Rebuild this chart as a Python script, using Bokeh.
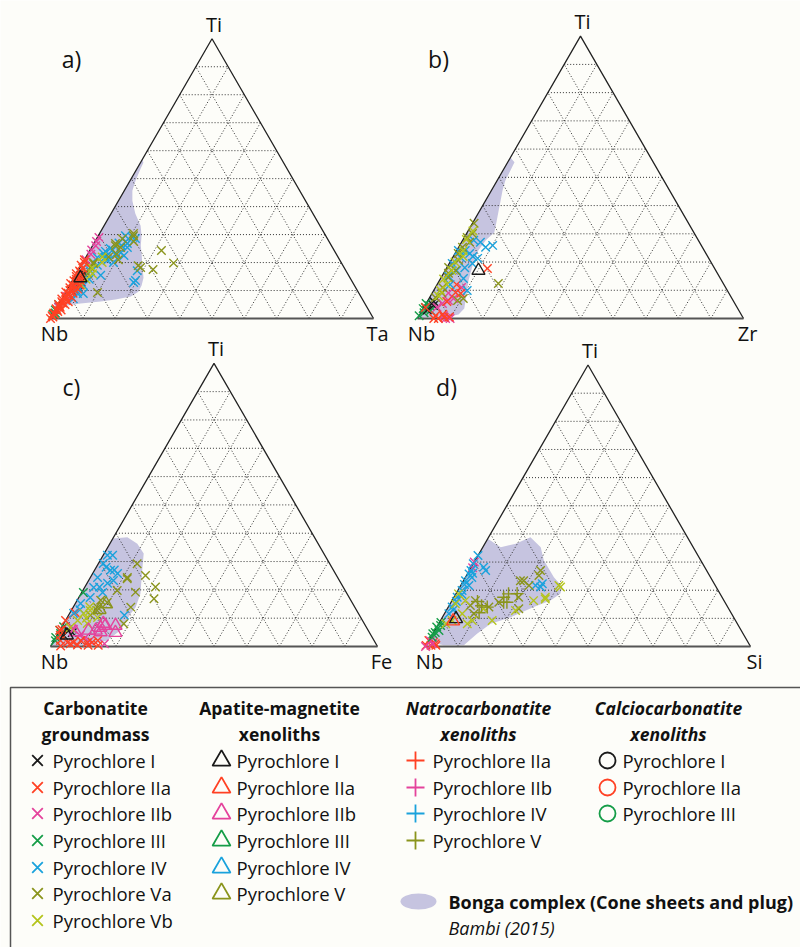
import numpy as np
from bokeh.plotting import figure
from bokeh.models import Range1d
from bokeh.embed import file_html
from bokeh.resources import INLINE
from bokeh.core.properties import value

# ---------------- data: ternary compositions (Ti %, X %) ; Nb = 100 - Ti - X ----------------
APEX_LABELS = ["Ti", "Ti", "Ti", "Ti"]
LEFT_LABELS = ["Nb", "Nb", "Nb", "Nb"]
RIGHT_LABELS = ["Ta", "Zr", "Fe", "Si"]
PANEL_TAGS = ["a)", "b)", "c)", "d)"]
GRID_FRACS = [0.1, 0.2, 0.3, 0.4, 0.5, 0.6, 0.7, 0.8, 0.9]

# Bonga complex fields (Bambi 2015)
A_BONGA = [(57, 0), (55.7, 0.9), (52.9, 1.2), (49.3, 1.7), (45.7, 2.5), (42.1, 4.3), (37.5, 7.5),
           (33.2, 11.3), (29.6, 13.4), (26.1, 14.9), (22.5, 17), (18.9, 19), (14.6, 21.5),
           (11.8, 22.3), (9.6, 22.4), (7.9, 20.9), (6.8, 16.7), (6.1, 12.5), (5.4, 6.6),
           (4.6, 2.3), (3.2, 0.6), (3, 0)]
B_BONGA = [(57, 0), (55.3, 2.1), (52.5, 2.3), (48.9, 2.5), (45.4, 3.4), (41.8, 4.6), (37.6, 6),
           (34, 7.2), (30.5, 8.3), (27.7, 7.1), (24.1, 6.6), (18.8, 7.5), (13.5, 8.9), (8.2, 10.9),
           (3.5, 12.6), (1.4, 11.9), (0.4, 8.4), (0.4, 2.5), (0, 0)]
C_BONGA = [(38.1, 0), (38.6, 4.2), (36.3, 8.4), (32.8, 12.1), (26.9, 14.6), (18.6, 18.2),
           (13.9, 19.1), (11.6, 18.7), (5.7, 18.6), (2.1, 16.2), (0.4, 12), (0.2, 3), (0, 0)]
D_BONGA = [(38.3, 0), (35.3, 5.5), (36.5, 9.5), (38.8, 12.9), (35.3, 17.8), (30.6, 21.1),
           (24.6, 27.2), (21.1, 31.6), (18.7, 32.1), (16.3, 30.3), (14, 26.3), (10.4, 21),
           (8.1, 16), (4.5, 13.6), (0.4, 11.6), (0.4, 5.4), (1.5, 0.7), (0, 0)]

# panel a) Nb-Ti-Ta
A_GM_I = [(14, 2), (13, 3), (12, 2.5), (15, 2), (10, 1.5), (11, 3), (16, 2.5)]
A_GM_IIA = [(0, 0), (0.5, 0.5), (1, 0), (1.5, 0.5), (2, 0), (2.5, 1), (3, 0.5), (3.5, 0), (4, 1),
            (4.5, 0.5), (5, 0), (5.5, 1), (6, 0.5), (6.5, 1.5), (7, 0), (7.5, 1), (8, 0.5), (8.5, 1.5),
            (9, 1), (9.5, 0), (10, 1), (10.5, 2), (11, 0.5), (11.5, 1.5), (12, 1), (12.5, 0), (13, 1.5),
            (13.5, 0.5), (14, 1), (14.5, 2), (15, 0.5), (15.5, 1.5), (16, 0), (16.5, 1), (17, 0.5),
            (18, 1), (19, 0), (20, 0.5), (21, 0), (6, 2.5), (9, 2.5), (12, 3), (3, 1.8), (7.5, 2.8),
            (10.5, 3.2), (13.5, 2.5), (5, 2)]
A_GM_IIB = [(29, 0.5), (27.5, 0.5), (26, 1), (24.5, 0.5), (23, 1), (21, 0.5), (8, 1), (4, 0.5)]
A_GM_III = [(3, 0), (4, 0.5), (2, 0.5), (5, 0), (1.5, 0)]
A_GM_IV = [(29.6, 8.4), (29, 10.9), (28.6, 12), (27, 7.7), (26.8, 10.4), (26, 9), (25.4, 11.1),
           (24.5, 7), (24, 5), (23.2, 4.8), (23, 8.5), (22, 6), (21.8, 3.6), (20.7, 7.2), (20, 9.5),
           (19, 5), (17.1, 3.8), (17.1, 18.3), (15.5, 7.8), (14, 5), (13.6, 19.5), (12.9, 19.3),
           (12.5, 2.1), (11.8, 4.3), (10, 3), (8.9, 5.7), (8.9, 3.9), (7.1, 3.5), (25, 6),
           (27.5, 9.5), (23.5, 10), (22.5, 11.5)]
A_GM_VA = [(30.4, 10.5), (29.6, 10.9), (26.8, 6.7), (26, 7.1), (25.4, 9), (24.3, 22.2), (19.8, 28.2),
           (17.5, 23), (18.9, 17.7), (18.2, 18.8), (9.3, 9.9), (18.2, 3.3), (20, 3.3), (16, 3.5),
           (19.6, 3.5), (23, 9), (22, 7), (21, 10.5), (27.5, 12), (28.5, 8)]
A_GM_VB = [(18, 4), (16, 5), (20, 6), (14, 4), (22, 5), (12, 3.5)]
A_AM_I = [(14.5, 2)]

# panel b) Nb-Ti-Zr
B_GM_I = [(4.6, 2.6), (6, 2), (3, 1.5)]
B_GM_IIA = [(17.7, 12.6), (0, 6.4), (0.4, 8), (1, 5), (9.2, 7.1), (8.9, 8.8), (3.9, 0.5), (0, 5),
            (0.5, 9.5), (1.5, 7), (6, 6), (12, 6)]
B_GM_IIB = [(0, 8.6), (0.4, 9.3), (7.1, 7.5), (6.4, 6.3), (5.3, 5), (1, 7.5), (0, 10), (4, 4),
            (9, 5), (11, 8)]
B_GM_III = [(5.3, 0), (3.9, 0.5), (3.5, 0), (2.8, 2.6), (1, 0), (2, 1), (4.5, 1.5)]
B_GM_IV = [(25.2, 8.3), (25.9, 10.1), (21.3, 7.8), (24.1, 2.6), (21.6, 2.4), (14.2, 7), (9.9, 10.3),
           (19.5, 7.1), (24.1, 0.5), (19.5, 0.9), (27, 5.8), (27.7, 3.4), (23, 4.5), (17, 3.5),
           (15, 2), (12, 4), (18, 5.5), (22, 6)]
B_GM_VA = [(33.7, 0.5), (30.1, 1.8), (28.7, 0.9), (25.2, 1.2), (20.6, 2.3), (14.5, 2.2), (11, 2.2),
           (7.4, 1.8), (18.1, 0.5), (17, 3.2), (6.4, 9.1), (7.1, 10.5), (12.4, 18.6), (27, 2.5),
           (23, 1), (16, 1.5), (9, 3)]
B_GM_VB = [(28, 1), (24, 2), (20, 1.5), (17, 2), (14, 1), (12, 3), (10, 2), (22, 3), (8, 2.5), (31, 1.5)]
B_AM_I = [(17, 10.2)]

# panel c) Nb-Ti-Fe
C_GM_I = [(5.7, 2.4), (4.9, 4.2), (3.9, 2.1)]
C_GM_IIA = [(2.1, 2), (1.4, 4.5), (1.4, 6.3), (2.1, 8.2), (1.4, 10.6), (2.1, 13.4), (0.4, 14.4),
            (0.4, 11.3), (0.2, 3), (1, 5.6), (5.7, 0), (9.2, 0), (6, 0.5), (12, 1.5), (4, 1),
            (0.5, 8), (1.5, 12)]
C_GM_IIB = [(3, 9), (2, 11), (6, 4), (4, 7), (1, 16)]
C_GM_III = [(5.7, 0), (4.6, 0.8), (3.2, 0), (19.1, 0.5), (7, 0.5), (2, 0.5)]
C_GM_IV = [(29.3, 1.5), (26.9, 4.9), (25.8, 7.6), (24.4, 2.2), (20.8, 2.8), (22.3, 6.3), (32.2, 2.9),
           (32.2, 1.3), (17.3, 3.5), (15.2, 1.6), (11.7, 1.2), (11, 17.1), (19.1, 6.4), (23.3, 7.6),
           (28, 3), (27, 6), (21, 4.5), (13, 2.5)]
C_GM_VA = [(29.2, 11.9), (25.1, 16.5), (21, 21.6), (16.9, 23.2), (19.2, 16.4), (13.9, 17.6),
           (8, 18.4), (23.9, 11.5), (24.4, 11.3), (19.8, 10.5), (16.3, 7.2), (12.7, 7.9),
           (13.8, 7.5), (15.5, 9.6), (11, 6.7)]
C_GM_VB = [(11.7, 4.3), (9.2, 3.7), (12.7, 5.8), (6.7, 2.7), (8.1, 7.2), (10.2, 9.3), (14, 5), (10, 6)]
C_AM_I = [(4, 3)]
C_AM_IIB = [(6.7, 11.9), (7.4, 13.1), (4.9, 17.4), (5.7, 11), (8.1, 12.1), (7.4, 16.2), (5.1, 12.8),
            (5.7, 8.8), (5.1, 5.1)]
C_AM_V = [(15, 9.5), (13, 8.5)]

# panel d) Nb-Ti-Si
D_GM_IIA = [(0.4, 0), (0.4, 1.5), (0.4, 3), (2.1, 0), (1.5, 1.7), (1, 2.5)]
D_GM_IIB = [(0, 0), (1, 1.6), (30, 0), (28, 0.5), (2, 0.5)]
D_GM_III = [(4.5, 0), (6.9, 0), (5.7, 1.3), (3.3, 0.4), (7.5, 0.9), (5, 0.5), (8.5, 0.5)]
D_GM_IV = [(32.3, 0), (28.2, 3.8), (27, 5), (29.4, 0), (25.8, 0.5), (23.4, 0.6), (19.9, 1.3),
           (17.5, 1), (14, 1.2), (11.6, 1.4), (27, 0.5), (21.7, 2.5), (22.3, 24.8), (21.7, 23),
           (21.1, 24.9), (26, 1.5), (24.5, 2), (22, 1), (18.5, 2), (16, 1.5), (13, 2)]
D_GM_VA = [(25.2, 22.3), (23.4, 17.5), (21.7, 21), (27, 21.9), (23.4, 18.5), (17.5, 19.9),
           (15.7, 14.7), (14, 12.5), (11.6, 9.1), (16.3, 7.2), (14.6, 6.5), (13.4, 22)]
D_GM_VB = [(21.7, 30.2), (21.1, 31), (17.5, 28.1), (16.9, 28.4), (16.3, 25.1), (12.8, 21.3),
           (9.2, 15.9), (16.3, 4.1), (18.7, 0.8), (15.2, 1.6), (11.6, 5.5), (9.2, 9.8), (9.2, 3.6),
           (8.1, 2.2), (8.1, 8.8), (13.4, 11.2)]
D_NC_V = [(18.7, 16.2), (17.5, 15.3), (14, 12), (18.8, 18.8), (15.7, 17.2), (15.7, 16.2), (16, 8),
          (12, 10.5), (14.5, 10)]
D_AM_I = [(9.8, 4.5)]
D_AM_IIA = [(9, 4)]

# legend entries
GM_NAMES = ["Pyrochlore I", "Pyrochlore IIa", "Pyrochlore IIb", "Pyrochlore III", "Pyrochlore IV",
            "Pyrochlore Va", "Pyrochlore Vb"]
AM_NAMES = ["Pyrochlore I", "Pyrochlore IIa", "Pyrochlore IIb", "Pyrochlore III", "Pyrochlore IV",
            "Pyrochlore V"]
NC_NAMES = ["Pyrochlore IIa", "Pyrochlore IIb", "Pyrochlore IV", "Pyrochlore V"]
CC_NAMES = ["Pyrochlore I", "Pyrochlore IIa", "Pyrochlore III"]

# ---------------- styles ----------------
COL = {"I": "#1a1a1a", "IIa": "#ff4124", "IIb": "#e4439c", "III": "#159d48", "IV": "#1aa2dc",
       "Va": "#8a941c", "Vb": "#b4c41c", "V": "#8a941c"}
GM_KEYS = ["I", "IIa", "IIb", "III", "IV", "Va", "Vb"]
AM_KEYS = ["I", "IIa", "IIb", "III", "IV", "V"]
NC_KEYS = ["IIa", "IIb", "IV", "V"]
CC_KEYS = ["I", "IIa", "III"]
BONGA_COL = "#c6c4e0"
FONT = value("Open Sans")

W, H = 800, 947
p = figure(width=W, height=H, x_range=Range1d(0, W), y_range=Range1d(H, 0),
           output_backend="svg", toolbar_location=None, min_border=0,
           x_axis_location=None, y_axis_location=None)
p.grid.visible = False
p.outline_line_color = None
p.background_fill_color = "#fdfdf9"
p.border_fill_color = "white"

# panel geometry: (Nb corner x, Nb corner y, side length) in screen units
GEO = [(50, 318, 323), (417, 318, 326), (50, 646, 327), (425, 646, 325)]
R3 = np.sqrt(3) / 2


def tern(ti, xx, geo):
    ox, oy, s = geo
    ti = np.asarray(ti, dtype=float) / 100.0
    xx = np.asarray(xx, dtype=float) / 100.0
    return ox + s * (xx + ti / 2.0), oy - s * R3 * ti


def pts_xy(pts, geo):
    return tern([t for t, _ in pts], [x for _, x in pts], geo)


BONGA = [A_BONGA, B_BONGA, C_BONGA, D_BONGA]
SERIES = [
    [("x", "III", A_GM_III), ("x", "I", A_GM_I), ("x", "IIb", A_GM_IIB), ("x", "IV", A_GM_IV),
     ("x", "Va", A_GM_VA), ("x", "Vb", A_GM_VB), ("x", "IIa", A_GM_IIA), ("triangle", "I", A_AM_I)],
    [("x", "III", B_GM_III), ("x", "I", B_GM_I), ("x", "IIb", B_GM_IIB), ("x", "IIa", B_GM_IIA),
     ("x", "IV", B_GM_IV), ("x", "Va", B_GM_VA), ("x", "Vb", B_GM_VB), ("triangle", "I", B_AM_I)],
    [("x", "III", C_GM_III), ("x", "I", C_GM_I), ("x", "IIb", C_GM_IIB), ("x", "IIa", C_GM_IIA),
     ("x", "IV", C_GM_IV), ("x", "Va", C_GM_VA), ("x", "Vb", C_GM_VB), ("triangle", "IIb", C_AM_IIB),
     ("triangle", "V", C_AM_V), ("triangle", "I", C_AM_I)],
    [("x", "IIa", D_GM_IIA), ("x", "IIb", D_GM_IIB), ("x", "III", D_GM_III), ("x", "IV", D_GM_IV),
     ("x", "Va", D_GM_VA), ("x", "Vb", D_GM_VB), ("cross", "V", D_NC_V), ("triangle", "I", D_AM_I),
     ("triangle", "IIa", D_AM_IIA)],
]
MSIZE = {"x": 12, "triangle": 13, "cross": 13, "circle": 12}

for k, geo in enumerate(GEO):
    # Bonga field
    bx, by = pts_xy(BONGA[k], geo)
    p.patch(bx, by, fill_color=BONGA_COL, line_color=None)
    # dotted grid
    for f in GRID_FRACS:
        g = f * 100
        segs = [([g, g], [0, 100 - g]), ([0, 100 - g], [g, g]), ([0, 100 - g], [100 - g, 0])]
        for ti, xx in segs:
            gx, gy = tern(ti, xx, geo)
            p.line(gx, gy, line_color="#333333", line_width=1, line_dash="1 2")
    # outline
    ex, ey = tern([0, 100, 0], [100, 0, 0], geo)
    p.line(ex, ey, line_color="#222222", line_width=1.3)
    bxx, byy = tern([0, 0], [0, 100], geo)
    p.line(bxx, byy, line_color="#555555", line_width=2.2)
    # data
    for marker, key, pts in SERIES[k]:
        sx, sy = pts_xy(pts, geo)
        p.scatter(sx, sy, marker=marker, size=MSIZE[marker], fill_color=None,
                  line_color=COL[key], line_width=1.4)
    # labels
    ax, ay = tern([100, 0, 0], [0, 0, 100], geo)
    p.text([ax[0] + 2], [ay[0] - 1], text=[APEX_LABELS[k]], text_align="center",
           text_baseline="bottom", text_font=FONT, text_font_size="20px", text_color="#111111")
    p.text([ax[1] + 4], [ay[1] + 1], text=[LEFT_LABELS[k]], text_align="center",
           text_baseline="top", text_font=FONT, text_font_size="20px", text_color="#111111")
    p.text([ax[2] + 4], [ay[2] + 1], text=[RIGHT_LABELS[k]], text_align="center",
           text_baseline="top", text_font=FONT, text_font_size="20px", text_color="#111111")
    p.text([geo[0] + 21], [geo[1] - 260], text=[PANEL_TAGS[k]], text_align="center",
           text_baseline="middle", text_font=FONT, text_font_size="23px", text_color="#111111")

# ---------------- legend box ----------------
p.line([10, 10, 800], [947, 687, 687], line_color="#555555", line_width=1.5)

ROW_Y = [760, 787, 813, 840, 867, 893, 920]
HEAD_Y = [707, 733]
COLS = [
    (95, ["Carbonatite", "groundmass"], "bold", 37, 52, "x", GM_KEYS, GM_NAMES, 15),
    (279, ["Apatite-magnetite", "xenoliths"], "bold", 221, 236, "triangle", AM_KEYS, AM_NAMES, 18),
    (478, ["Natrocarbonatite", "xenoliths"], "bold italic", 415, 432, "cross", NC_KEYS, NC_NAMES, 18),
    (668, ["Calciocarbonatite", "xenoliths"], "bold italic", 607, 622, "circle", CC_KEYS, CC_NAMES, 16),
]
for cx, heads, style, mx, tx, marker, keys, names, ms in COLS:
    p.text([cx, cx], HEAD_Y, text=heads, text_align="center", text_baseline="middle",
           text_font=FONT, text_font_style=style, text_font_size="17.5px", text_color="#111111")
    n = len(keys)
    p.scatter([mx] * n, ROW_Y[:n], marker=marker, size=ms, fill_color=None,
              line_color=[COL[q] for q in keys], line_width=1.8)
    p.text([tx] * n, ROW_Y[:n], text=names, text_align="left", text_baseline="middle",
           text_font=FONT, text_font_size="18.5px", text_color="#111111")

p.ellipse([418], [901], width=36, height=16, fill_color=BONGA_COL, line_color=None)
p.text([448], [901], text=["Bonga complex (Cone sheets and plug)"], text_align="left",
       text_baseline="middle", text_font=FONT, text_font_style="bold", text_font_size="18px",
       text_color="#111111")
p.text([448], [927], text=["Bambi (2015)"], text_align="left", text_baseline="middle",
       text_font=FONT, text_font_style="italic", text_font_size="18px", text_color="#111111")

open("out.html", "w").write(file_html(p, INLINE))
